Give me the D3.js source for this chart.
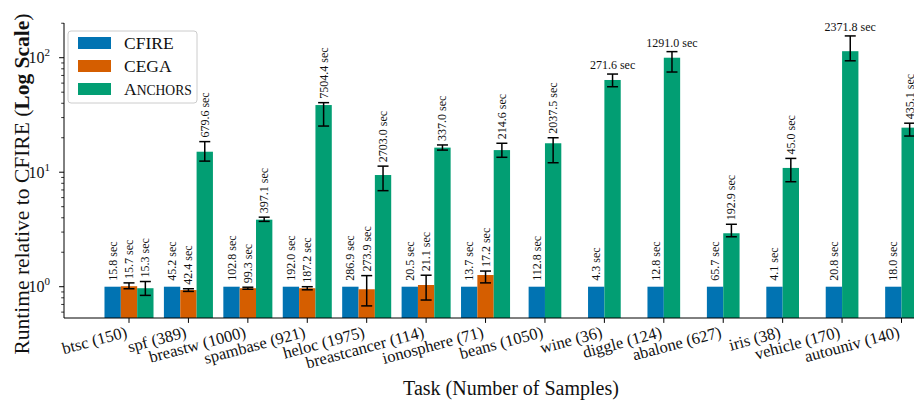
<!DOCTYPE html>
<html>
<meta charset="utf-8">
<head>
    <script src="https://d3js.org/d3.v7.min.js"></script>
    <style>
        body { margin: 0; background: #fff; }
        text { font-family: "Liberation Serif", serif; fill: #111; }
    </style>
</head>
<body>
    <script>
        var width = 914,
            height = 402;

        // tasks and absolute runtimes (seconds)
        var tasks = ["btsc (150)", "spf (389)", "breastw (1000)", "spambase (921)", "heloc (1975)",
            "breastcancer (114)", "ionosphere (71)", "beans (1050)", "wine (36)", "diggle (124)",
            "abalone (627)", "iris (38)", "vehicle (170)", "autouniv (140)"];
        var cfireSec = [15.8, 45.2, 102.8, 192.0, 286.9, 20.5, 13.7, 112.8, 4.3, 12.8, 65.7, 4.1, 20.8, 18.0];
        var cegaSec = [15.7, 42.4, 99.3, 187.2, 273.9, 21.1, 17.2, null, null, null, null, null, null, null];
        var anchorsSec = [15.3, 679.6, 397.1, 7504.4, 2703.0, 337.0, 214.6, 2037.5, 271.6, 1291.0, 192.9, 45.0, 2371.8, 435.1];

        // runtime relative to CFIRE, with error bar bounds
        var cfireRatio = [1, 1, 1, 1, 1, 1, 1, 1, 1, 1, 1, 1, 1, 1];
        var cegaRatio = [1.01, 0.935, 0.97, 0.97, 0.95, 1.035, 1.265, null, null, null, null, null, null, null];
        var cegaLo = [0.96, 0.91, 0.95, 0.94, 0.68, 0.765, 1.08, null, null, null, null, null, null, null];
        var cegaHi = [1.08, 0.96, 0.99, 1.0, 1.25, 1.26, 1.37, null, null, null, null, null, null, null];
        var anchorsRatio = [0.97, 15.1, 3.85, 38.6, 9.45, 16.4, 15.6, 17.9, 63.9, 100, 2.93, 10.9, 114, 24.5];
        var anchorsLo = [0.84, 12.5, 3.72, 25.3, 6.9, 15.6, 13.5, 12.1, 55.8, 75, 2.73, 8.26, 94, 20.7];
        var anchorsHi = [1.11, 18.5, 4.05, 40.5, 11.3, 17.3, 17.9, 20.0, 72, 113, 3.51, 13.2, 155, 26.8];

        var yTicks = [1, 10, 100];
        var yTickExp = ["0", "1", "2"];

        var methods = [
            { name: "CFIRE", color: "#0173b2", ratio: cfireRatio, lo: null, hi: null, sec: cfireSec },
            { name: "CEGA", color: "#d55e00", ratio: cegaRatio, lo: cegaLo, hi: cegaHi, sec: cegaSec },
            { name: "Anchors", color: "#029e73", ratio: anchorsRatio, lo: anchorsLo, hi: anchorsHi, sec: anchorsSec }
        ];

        var plotLeft = 64, plotTop = 23, plotBottom = 318;

        var svg = d3.select("body").append("svg")
            .attr("width", width)
            .attr("height", height);

        var x = d3.scaleLinear()
            .domain([0, 13])
            .range([129, 901.5]);

        var y = d3.scaleLog()
            .domain([0.533, 201])
            .range([plotBottom, plotTop]);

        var bw = (x(1) - x(0)) * 0.275;

        // build bars, centring whatever methods exist in each group
        var bars = [];
        tasks.forEach(function(t, i) {
            var present = methods.filter(function(m) { return m.ratio[i] != null; });
            present.forEach(function(m, k) {
                bars.push({
                    i: i,
                    cx: x(i) + (k - (present.length - 1) / 2) * bw,
                    v: m.ratio[i],
                    lo: m.lo ? m.lo[i] : null,
                    hi: m.hi ? m.hi[i] : null,
                    sec: m.sec[i],
                    color: m.color
                });
            });
        });

        var g = svg.append("g");

        g.selectAll("rect.bar")
            .data(bars)
            .enter()
            .append("rect")
            .attr("class", "bar")
            .attr("x", function(d) { return d.cx - bw / 2; })
            .attr("width", bw)
            .attr("y", function(d) { return y(d.v); })
            .attr("height", function(d) { return plotBottom - y(d.v); })
            .attr("fill", function(d) { return d.color; });

        // error bars
        var eb = g.selectAll("g.err")
            .data(bars.filter(function(d) { return d.lo != null; }))
            .enter()
            .append("g")
            .attr("stroke", "#000")
            .attr("stroke-width", 1.5);
        eb.append("line")
            .attr("x1", function(d) { return d.cx; })
            .attr("x2", function(d) { return d.cx; })
            .attr("y1", function(d) { return y(d.lo); })
            .attr("y2", function(d) { return y(d.hi); });
        eb.append("line")
            .attr("x1", function(d) { return d.cx - 5.5; })
            .attr("x2", function(d) { return d.cx + 5.5; })
            .attr("y1", function(d) { return y(d.lo); })
            .attr("y2", function(d) { return y(d.lo); });
        eb.append("line")
            .attr("x1", function(d) { return d.cx - 5.5; })
            .attr("x2", function(d) { return d.cx + 5.5; })
            .attr("y1", function(d) { return y(d.hi); })
            .attr("y2", function(d) { return y(d.hi); });

        // value labels: vertical unless they would run past the top
        bars.forEach(function(d) {
            var top = d.hi != null ? y(d.hi) - 4 : y(d.v) - 6;
            var t = g.append("text")
                .attr("font-size", 12)
                .text(d.sec.toFixed(1) + " sec");
            var len = t.node().getComputedTextLength();
            if (top - len < plotTop + 15) {
                t.attr("x", d.cx).attr("y", top - 1).attr("text-anchor", "middle");
            } else {
                t.attr("text-anchor", "start")
                    .attr("dominant-baseline", "central")
                    .attr("transform", "translate(" + d.cx + "," + top + ") rotate(-90)");
            }
        });

        // spines
        svg.append("line").attr("x1", plotLeft).attr("x2", plotLeft)
            .attr("y1", plotTop).attr("y2", plotBottom).attr("stroke", "#000").attr("stroke-width", 1);
        svg.append("line").attr("x1", plotLeft).attr("x2", width)
            .attr("y1", plotBottom).attr("y2", plotBottom).attr("stroke", "#000").attr("stroke-width", 1);

        // y ticks
        var minor = [];
        [0.1, 1, 10, 100].forEach(function(b) {
            for (var k = 2; k <= 9; k++) {
                var v = b * k;
                if (v >= 0.533 && v <= 201) minor.push(v);
            }
        });
        svg.selectAll("line.minor").data(minor).enter().append("line")
            .attr("x1", plotLeft - 2.8).attr("x2", plotLeft)
            .attr("y1", function(d) { return y(d); }).attr("y2", function(d) { return y(d); })
            .attr("stroke", "#000").attr("stroke-width", 0.8);
        svg.selectAll("line.major").data(yTicks).enter().append("line")
            .attr("x1", plotLeft - 4.9).attr("x2", plotLeft)
            .attr("y1", function(d) { return y(d); }).attr("y2", function(d) { return y(d); })
            .attr("stroke", "#000").attr("stroke-width", 1);
        var yl = svg.selectAll("text.ytick").data(yTicks).enter().append("text")
            .attr("x", 50).attr("y", function(d) { return y(d) + 5.5; })
            .attr("text-anchor", "end")
            .attr("font-size", 16);
        yl.append("tspan").text("10");
        yl.append("tspan").attr("font-size", 11).attr("dy", -7)
            .text(function(d, i) { return yTickExp[i]; });

        // x ticks
        svg.selectAll("line.xtick").data(tasks).enter().append("line")
            .attr("x1", function(d, i) { return x(i); }).attr("x2", function(d, i) { return x(i); })
            .attr("y1", plotBottom).attr("y2", plotBottom + 4.9)
            .attr("stroke", "#000").attr("stroke-width", 1);
        svg.selectAll("text.xtick").data(tasks).enter().append("text")
            .attr("text-anchor", "end")
            .attr("font-size", 16.5)
            .attr("transform", function(d, i) { return "translate(" + (x(i) - 1) + ",337) rotate(-15)"; })
            .text(function(d) { return d; });

        // axis titles
        svg.append("text")
            .attr("x", 511).attr("y", 395)
            .attr("text-anchor", "middle")
            .attr("font-size", 20)
            .text("Task (Number of Samples)");
        var ytitle = svg.append("text")
            .attr("text-anchor", "middle")
            .attr("font-size", 21.5)
            .attr("transform", "translate(29,184) rotate(-90)");
        ytitle.append("tspan").text("Runtime relative to CFIRE (");
        ytitle.append("tspan").attr("font-weight", "bold").text("Log Scale");
        ytitle.append("tspan").text(")");

        // legend
        var leg = svg.append("g");
        leg.append("rect")
            .attr("x", 68).attr("y", 31).attr("width", 129).attr("height", 72).attr("rx", 3)
            .attr("fill", "#fff").attr("fill-opacity", 0.8)
            .attr("stroke", "#ccc").attr("stroke-width", 1);
        methods.forEach(function(m, k) {
            var cy = 43 + k * 23;
            leg.append("rect")
                .attr("x", 78).attr("y", cy - 6).attr("width", 33).attr("height", 12)
                .attr("fill", m.color);
            var t = leg.append("text").attr("x", 124).attr("y", cy + 6).attr("font-size", 17.5);
            if (m.name === "Anchors") {
                t.append("tspan").text("A");
                t.append("tspan").attr("font-size", 13.6).text("NCHORS");
            } else {
                t.text(m.name);
            }
        });
    </script>
</body>
</html>
